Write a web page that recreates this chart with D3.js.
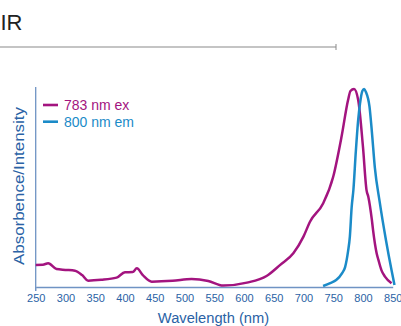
<!DOCTYPE html>
<html><head><meta charset="utf-8">
<script src="https://cdn.jsdelivr.net/npm/d3@7"></script>
<style>body{margin:0;background:#fff;overflow:hidden}svg{display:block;font-family:"Liberation Sans",Arial,sans-serif}</style>
</head><body><svg id="c" width="401" height="326"></svg>
<script>
const title = "NIR";
const xTicks = [250,300,350,400,450,500,550,600,650,700,750,800,850];
const legendLabels = ["783 nm ex","800 nm em"];
const exWl  = [250,262,271,285,300,316,328,338,360,386,400,413,420,430,445,480,512,540,565,605,638,661,683,700,711,733,750,764,775,779,785,792,800,806,809,815,817,823,826,831,837,848];
const exVal = [0.111,0.112,0.119,0.090,0.086,0.082,0.060,0.032,0.036,0.047,0.074,0.075,0.094,0.060,0.027,0.031,0.040,0.030,0.007,0.022,0.055,0.111,0.169,0.253,0.328,0.420,0.554,0.755,0.940,0.985,0.995,0.940,0.705,0.487,0.454,0.337,0.286,0.170,0.136,0.085,0.052,0.019];
const emWl  = [733,745,755,765,770,775,778,781,784,788,792,795,799,802,805,811,815,820,828,839,848,853];
const emVal = [0.005,0.020,0.035,0.070,0.100,0.180,0.253,0.400,0.490,0.680,0.840,0.920,0.985,0.995,0.980,0.906,0.780,0.600,0.430,0.230,0.085,0.010];

const svg = d3.select("#c");
const exColor = "#a3147f", emColor = "#1b8bc8", axisColor = "#6f93c4", textColor = "#2a62a5";
const x = d3.scaleLinear().domain([250,850]).range([35.7,392.7]);
const y = d3.scaleLinear().domain([0,1]).range([287,88]);

// title
svg.append("text").attr("x",-15.5).attr("y",30).attr("font-size",22).attr("fill","#222").text(title);
svg.append("line").attr("x1",0).attr("x2",336).attr("y1",47).attr("y2",47).attr("stroke","#8a8a8a").attr("stroke-width",1.2);
svg.append("line").attr("x1",336).attr("x2",336).attr("y1",44).attr("y2",50).attr("stroke","#8a8a8a").attr("stroke-width",1);

// x axis
const xa = svg.append("g").attr("transform","translate(0,287)")
  .call(d3.axisBottom(x).tickValues(xTicks).tickSize(0).tickPadding(7).tickFormat(d3.format("d")));
xa.select(".domain").attr("stroke",axisColor).attr("stroke-width",1.3);
xa.selectAll("text").attr("fill",textColor).attr("font-size",11).attr("font-family","Liberation Sans, Arial, sans-serif");
svg.append("line").attr("x1",x(250)).attr("x2",x(250)).attr("y1",287).attr("y2",291).attr("stroke",axisColor);

// y axis
const ya = svg.append("g").attr("transform","translate("+x(250)+",0)")
  .call(d3.axisLeft(y).tickValues([]).tickSize(0));
ya.select(".domain").attr("stroke",axisColor).attr("stroke-width",1.3).attr("d","M0,87V291");

svg.append("text").attr("transform","translate(23.5,186) rotate(-90)").attr("text-anchor","middle")
  .attr("font-size",15).attr("fill",textColor).attr("textLength",158).attr("lengthAdjust","spacingAndGlyphs").text("Absorbence/Intensity");
svg.append("text").attr("x",213.5).attr("y",323).attr("text-anchor","middle")
  .attr("font-size",14.7).attr("fill",textColor).text("Wavelength (nm)");

// curves
const line = d3.line().x(d=>x(d[0])).y(d=>y(d[1])).curve(d3.curveMonotoneX);
svg.append("path").datum(exWl.map((w,i)=>[w,exVal[i]])).attr("d",line)
  .attr("fill","none").attr("stroke",exColor).attr("stroke-width",2.5);
svg.append("path").datum(emWl.map((w,i)=>[w,emVal[i]])).attr("d",line)
  .attr("fill","none").attr("stroke",emColor).attr("stroke-width",2.5);

// legend
const colors=[exColor,emColor];
legendLabels.forEach((t,i)=>{
  const yy = 105 + i*16.7;
  svg.append("line").attr("x1",43).attr("x2",58).attr("y1",yy).attr("y2",yy).attr("stroke",colors[i]).attr("stroke-width",2.6);
  svg.append("text").attr("x",64).attr("y",yy+5).attr("font-size",14).attr("fill",colors[i]).text(t);
});
</script></body></html>
